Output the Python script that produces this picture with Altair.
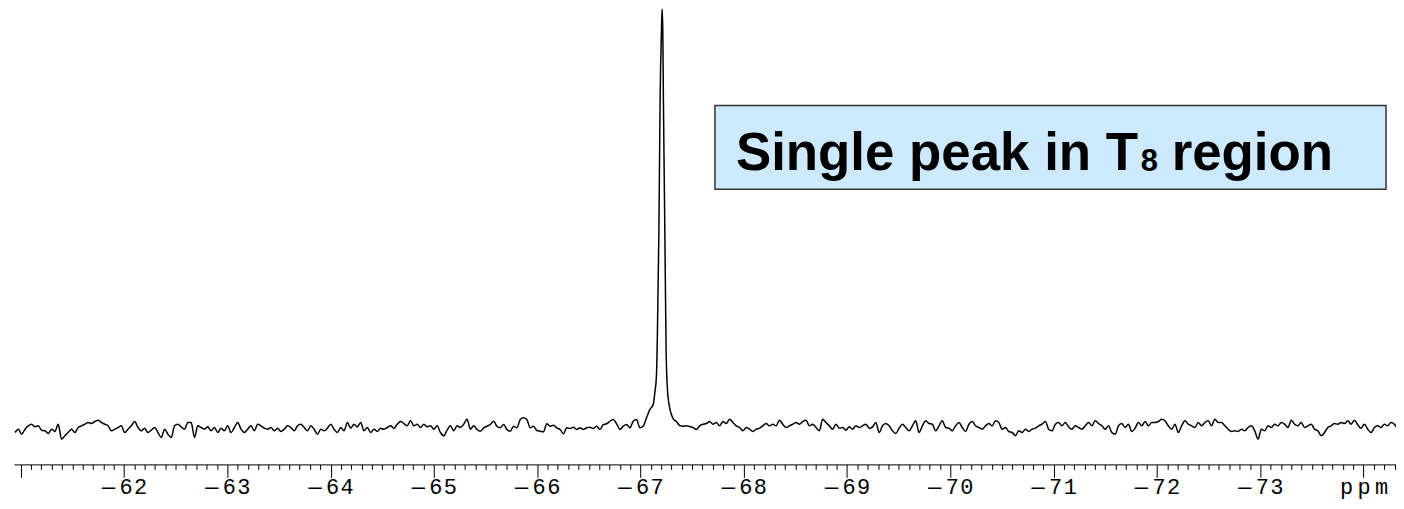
import altair as alt
import pandas as pd

# --- spectrum (19F NMR, ppm) ---
step_ppm = 0.032175
left_start_ppm = -60.945
left_int = [
    -5, -1.7, -6.7, -1.7, 1.7, 3.3, 0.7, 1.7, -2.7, -3.3,
    -6, -1.7, -4, 3.3, -11.7, -8.3, -5, -1.7, -5, 0,
    1.7, 3.3, 5, 4, 6, 7.3, 5, 3.3, 1.7, -3.3,
    -1.7, 0, 1.7, -5, -1.7, 1.7, 6, 0, -3.3, -0.7,
    -5, -2.7, 0, -5, -10, -1.7, -6.7, -10, 1.7, 3.3,
    0.7, -1.7, 5, 5, -10, 1.7, 0, -1.7, 0.7, -3.3,
    0, -5, -0.7, -3.3, 1.7, -5, 0, 5, -1.7,
    -5, -1.7, 1.7, -3.3, 3.3, 1.7, -0.7, -1.7, 0, -3.3,
    -0.7, -4, -1.7, 1.7, 0, -3.3, 1.7, 3.3, 0, -3.3,
    1.7, -1.7, -6.7, -1.7, -3.3, -0.7, 3.3, -1.7, -5, 0,
    -3.3, 5, -0.7, 3.3, 0.7, 5, -3.3, 0, -5, -1.7,
    -4, -0.7, -1.7, 0, 1.7, -0.7, 3.3, 6, 4, 1.7,
    6.7, 1.7, 3.3, 0, 3.3, 0.7, 1.7, -1.7, 1.7, -5,
    -8.3, -2.7, 1.7, -3.3, 1.7, 0, 3.3, 8.3, -1.7, 1.7,
    -2, -3.7, -0.3, 1.3, 3, 6.3, 1.3, -0.3,
    3, -2, -3.7, 1.3, -0.3, 8, 9.7, 8, -0.3, 1.3,
    -3, -3.7, -4.3, 3.7, 1.3, 2.3, -0.3, -2, -6.3, -0.3,
    -1, 0.3, -2, -0.3, -2, -0.3, 0.3, -1, 1.3, -2,
    3, 3.7, 6.3, 8, 3.7, -2, 1.3, 3, -0.3, 6.3,
    8, -0.3, 1.3, 9.7,
]
peak_ppm = [-67.090, -67.123, -67.139, -67.154, -67.164, -67.178, -67.190,
            -67.203, -67.2095, -67.216, -67.222, -67.236, -67.248, -67.261,
            -67.274, -67.293, -67.316]
peak_int = [18, 23, 35, 51, 95, 195, 328, 398, 420, 398, 328, 195, 78, 38,
            25, 15, 9]
right_start_ppm = -67.348
right_int = [
    6, 2, 1.3, 1.8, 1, 0, -2,
    1.7, 3.3, 4, 6, 3.3, 5, 1.7, 6, 4, 8.3,
    5, 1.7, 0, -3.3, 0, -1.7, -4, -1.7, -0.7, 1.7,
    4, 1.7, 3.3, 1.7, 7.3, 3.3, 0, 1.7, 3.3, 5,
    3.3, 6, 7.3, 1.7, 3.3, 0, -3.3, 8.3, 5, 1.7,
    -1.7, 3.3, -0.7, 0, -2.7, 0.7, -1.7, 1.7, 0, 1.7,
    3.3, -0.7, 0.7, 5, -5, 1.7, 4, 1.7, -3.3, -6,
    -0.7, 3.3, 0, -3.3, 1.7, 6.7, -5, 1.7, 6.7, 4,
    3.3,
    -3.3, 1.7, 6.7, 0, -0.7, -3.3, 1.7, 5,
    0, -4, 3.3, 6, 1.7, 0, -1.7, 1.7, 4, 1.7,
    6.7, 5, -1.7, 0, -4, -5, -8.3, -3.3, -5, -1.7,
    -4, -1.7, -0.7, 1.7, 3.3, 6, -1.7, -3.3, 3.3, 5,
    1.7, 5, 0.7, -1.7, 1.7, 0, -1.7, 1.7, 5, 1.7,
    6.7, 4, 1.7, -1.7, 1.7, -5, -6.7, 1.7, 4, 0,
    3.3, -4, -0.7, 5, 1.7, 6, 1.7, 5, 5, 6,
    8.3,
    6.7, 1.7, -1.7, 3.3, -5, 1.7, 6.7, 3.3,
    1.7, 0, 5, 1.7, 5, 6.7, 1.7, 8.3, 5, 5,
    1.7, -1.7, -4, -3.3, -4, -1.7, -3.3, 0, 1.7, -3.3,
    -11.7, -1.7, -3.3, 1.7, 0, 3.3, 1.7, 5, 3.3, 0,
    7.3, 3.3, 1.7, 5, 0, 1.7, 3.3, -1.7, -3.3, -8.3,
    -5, 0, 1.7, 4, 3.3, 5, 4, 6.7, 3.3, 7.3,
    2.7, -0.7, 3.3, -1.7, -5, 0, 1.7, 0, 3.3, 1.7,
    5, 3.3, -1.7,
]

# axis
x_domain = [-74.314, -60.935]
tick_values = [round(-61 - 0.1 * i, 1) for i in range(134)]
annotation_main = "Single peak in T"
annotation_sub = "8"
annotation_tail = "region"

ppm = ([left_start_ppm - i * step_ppm for i in range(len(left_int))]
       + peak_ppm
       + [right_start_ppm - i * step_ppm for i in range(len(right_int))])
inten = left_int + peak_int + right_int
df = pd.DataFrame({"ppm": ppm, "intensity": inten})

W, H = 1386, 457
THIN = "\u2009"
HAIR = "\u200a"
DASH = "\u2014"

x_axis = alt.Axis(
    values=tick_values,
    title=None,
    grid=False,
    domainColor="#000000",
    domainWidth=1,
    tickColor="#000000",
    tickWidth=1,
    tickSize={"condition": {"test": "abs(datum.value - round(datum.value)) < 0.001", "value": 13}, "value": 5},
    labelExpr=("abs(datum.value - round(datum.value)) < 0.001 && datum.value < -61.5 ? "
               "(datum.value < -73.5 ? join(split('ppm', ''), '" + THIN + "') : "
               "'" + DASH + THIN + "' + join(split(format(-datum.value, 'd'), ''), '" + HAIR + "')) : ''"),
    labelOverlap=False,
    labelFlush=False,
    labelBound=False,
    labelFont="Liberation Mono",
    labelFontSize=22,
    labelColor="#000000",
    labelBaseline="alphabetic",
    labelPadding=16,
)

line = alt.Chart(df).mark_line(color="#000000", strokeWidth=1.5, clip=True, interpolate="monotone").encode(
    x=alt.X("ppm:Q", scale=alt.Scale(domain=x_domain, reverse=True, nice=False, zero=False), axis=x_axis),
    y=alt.Y("intensity:Q", scale=alt.Scale(domain=[-37, 420], nice=False, zero=False), axis=None),
)

box = alt.Chart(pd.DataFrame({"k": [1]})).mark_rect(
    fill="#cde9fd", stroke="#333333", strokeWidth=1.5
).encode(x=alt.value(703), x2=alt.value(1376), y=alt.value(97), y2=alt.value(181))

t1 = alt.Chart(pd.DataFrame({"t": [annotation_main]})).mark_text(
    font="Liberation Sans", fontWeight="bold", fontSize=53, align="left", baseline="alphabetic", color="#000000"
).encode(text="t:N", x=alt.value(724), y=alt.value(162))

t2 = alt.Chart(pd.DataFrame({"t": [annotation_sub]})).mark_text(
    font="Liberation Sans", fontWeight="bold", fontSize=31, align="left", baseline="alphabetic", color="#000000"
).encode(text="t:N", x=alt.value(1130), y=alt.value(163))

t3 = alt.Chart(pd.DataFrame({"t": [annotation_tail]})).mark_text(
    font="Liberation Sans", fontWeight="bold", fontSize=53, align="left", baseline="alphabetic", color="#000000"
).encode(text="t:N", x=alt.value(1161), y=alt.value(162))

chart = alt.layer(line, box, t1, t2, t3).properties(
    width=W, height=H,
    background="#ffffff",
    autosize=alt.AutoSizeParams(type="none"),
    padding={"left": 6, "top": 0, "right": 0, "bottom": 36},
).configure_view(stroke="transparent", strokeWidth=0)

chart.save("out.html", embed_options={"renderer": "svg", "actions": False})
